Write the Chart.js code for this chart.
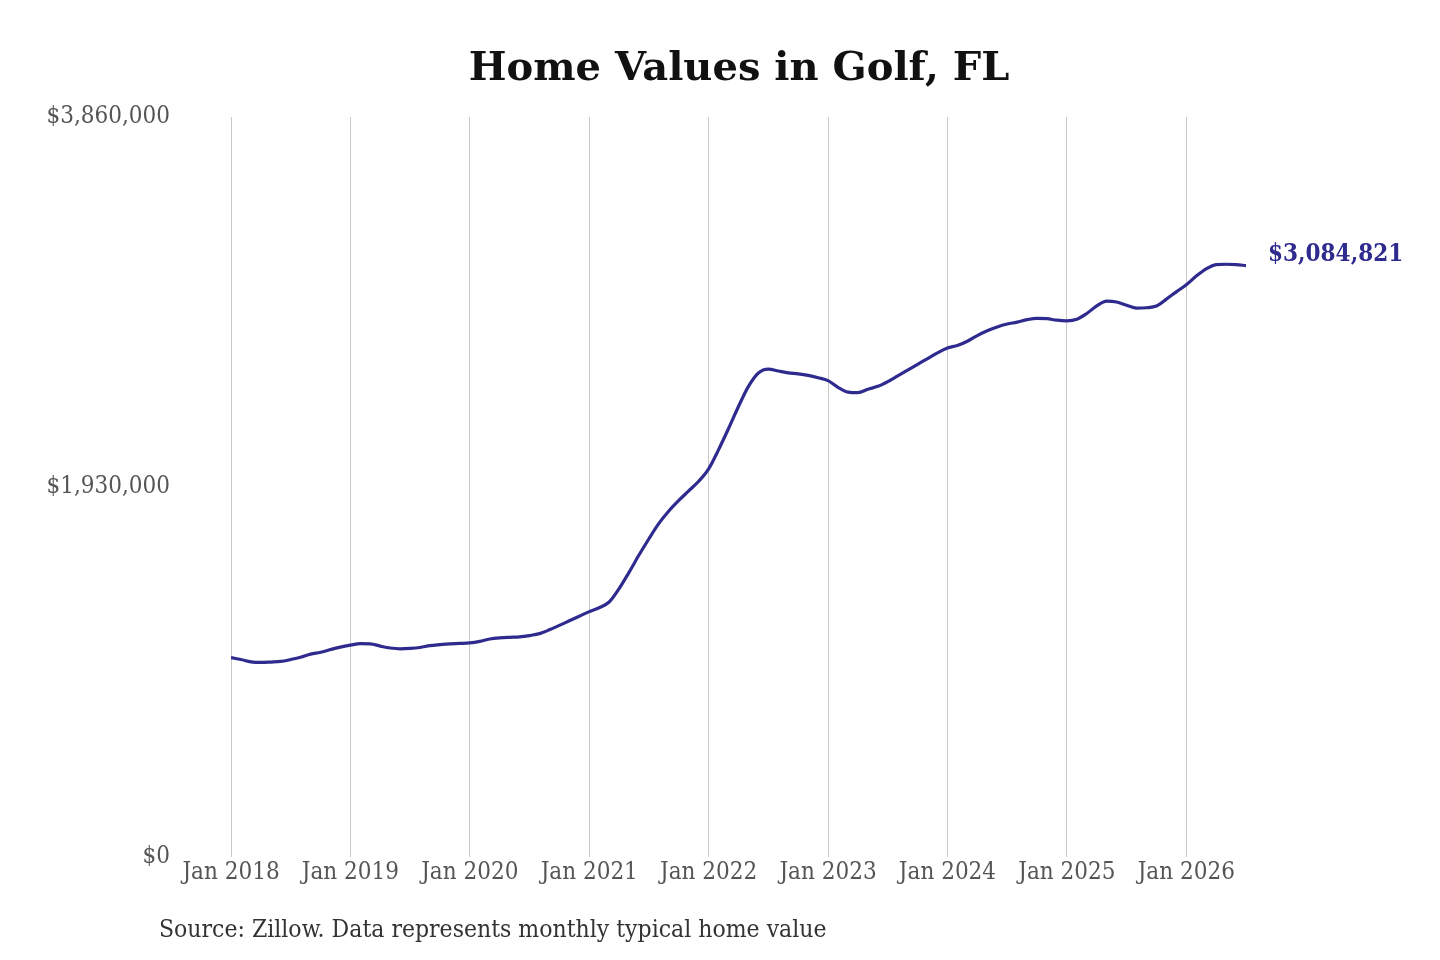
<!DOCTYPE html>
<html>
<head>
<meta charset="utf-8">
<script src="https://cdn.jsdelivr.net/npm/chart.js@4.4.1/dist/chart.umd.min.js"></script>
<style>
html,body{margin:0;padding:0;background:#fff;}
#wrap{position:relative;width:1440px;height:960px;}
canvas{display:block;}
</style>
</head>
<body>
<div id="wrap"><canvas id="c" width="1440" height="960"></canvas></div>
<script>
const title = "Home Values in Golf, FL";
const sourceNote = "Source: Zillow. Data represents monthly typical home value";
const yTicks = [0, 1930000, 3860000];
const xTickLabels = ["Jan 2018","Jan 2019","Jan 2020","Jan 2021","Jan 2022","Jan 2023","Jan 2024","Jan 2025","Jan 2026"];
const endLabel = "$3,084,821";
// Monthly typical home values, Jan 2018 .. Jul 2026
const values = [
  1040000,1030000,1018000,1015000,1017000,1020000,1030000,1042000,1058000,1068000,1082000,1095000,
  1105000,1113000,1112000,1100000,1090000,1086000,1088000,1093000,1103000,1108000,1112000,1114000,
  1117000,1125000,1137000,1143000,1146000,1148000,1155000,1165000,1185000,1208000,1232000,1256000,
  1280000,1300000,1330000,1400000,1485000,1575000,1660000,1740000,1805000,1860000,1910000,1960000,
  2025000,2125000,2235000,2350000,2455000,2525000,2545000,2535000,2525000,2520000,2512000,2500000,
  2485000,2450000,2425000,2422000,2440000,2455000,2480000,2510000,2540000,2570000,2600000,2630000,
  2655000,2668000,2690000,2720000,2745000,2765000,2780000,2790000,2803000,2810000,2808000,2800000,
  2797000,2805000,2835000,2875000,2900000,2895000,2878000,2863000,2865000,2874000,2910000,2948000,
  2985000,3030000,3068000,3090000,3092000,3090000,3084821
];
const points = values.map((v,i)=>({x:i,y:v}));

const lineColor = '#2e2a8e';
const serifCond = '"DejaVu Serif Condensed", "DejaVu Serif"';

const decor = {
  id:'decor',
  afterDraw(chart){
    const ctx = chart.ctx;
    const xs = chart.scales.x, ys = chart.scales.y;
    ctx.save();
    // title
    ctx.fillStyle = '#111';
    ctx.font = 'bold 40px "DejaVu Serif"';
    ctx.textAlign = 'center';
    ctx.textBaseline = 'middle';
    ctx.fillText(title, 739, 70);
    // end label
    const last = values.length-1;
    ctx.fillStyle = lineColor;
    ctx.font = 'bold 24px ' + serifCond;
    ctx.textAlign = 'left';
    ctx.fillText(endLabel, xs.getPixelForValue(last)+22, ys.getPixelForValue(values[last])-11);
    // source
    ctx.fillStyle = '#333';
    ctx.font = '24.5px ' + serifCond;
    ctx.textAlign = 'left';
    ctx.fillText(sourceNote, 159, 931);
    ctx.restore();
  }
};

new Chart(document.getElementById('c'), {
  type:'line',
  data:{datasets:[{data:points,borderColor:lineColor,borderWidth:3.2,pointRadius:0,tension:0.4,cubicInterpolationMode:'monotone',fill:false}]},
  options:{
    responsive:false,animation:false,
    layout:{padding:{left:0,right:194,top:117,bottom:0}},
    plugins:{legend:{display:false},tooltip:{enabled:false},title:{display:false}},
    scales:{
      x:{type:'linear',min:0,max:102,
        afterBuildTicks(s){s.ticks = xTickLabels.map((_,i)=>({value:i*12}));},
        afterFit(s){s.height = 103;},
        grid:{display:true,color:'#c8c8c8',lineWidth:1,drawTicks:false},
        border:{display:false},
        ticks:{autoSkip:false,maxRotation:0,padding:1,color:'#555',
          font:{family:serifCond,size:24},
          callback:(v)=>xTickLabels[Math.round(v/12)]}
      },
      y:{min:0,max:3860000,
        afterBuildTicks(s){s.ticks = yTicks.map(v=>({value:v}));},
        afterFit(s){s.width = 231;},
        grid:{display:false},
        border:{display:false},
        ticks:{padding:53,color:'#555',
          font:{family:serifCond,size:24},
          callback:(v)=>'$'+Number(v).toLocaleString('en-US')}
      }
    }
  },
  plugins:[decor]
});
</script>
</body>
</html>
